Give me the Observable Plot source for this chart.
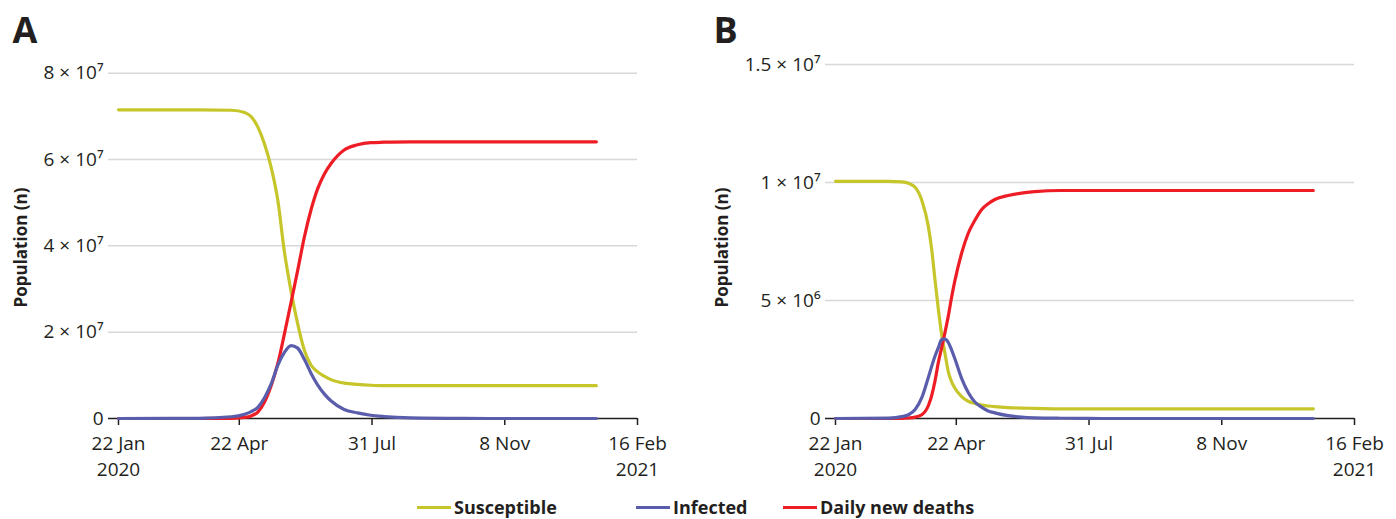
<!DOCTYPE html>
<html>
<head>
<meta charset="utf-8">
<script src="https://cdn.jsdelivr.net/npm/d3@7"></script>
<script src="https://cdn.jsdelivr.net/npm/@observablehq/plot@0.6"></script>
<style>
  body { margin: 0; background: #fff; font-family: "Open Sans", sans-serif; }
  #fig { position: relative; width: 1396px; height: 519px; overflow: hidden; }
  #fig svg { position: absolute; top: 0; }
  .legend { position: absolute; top: 495px; left: 0; width: 1396px; height: 24px; }
  .item { position: absolute; top: 0; height: 24px; display: flex; align-items: center;
          font-weight: 700; font-size: 18px; color: #231f20; }
  .sw { width: 34px; height: 3px; margin-right: 3px; }
</style>
</head>
<body>
<div id="fig">
  <div class="legend" id="legend"></div>
</div>
<script>
// Model start date; sample points are day offsets from it.
const startDate = Date.UTC(2020, 0, 22);
const endDate = Date.UTC(2021, 1, 16);

// x-axis ticks (100-day steps after 22 Apr) and their labels
const xTickDates = [Date.UTC(2020, 0, 22), Date.UTC(2020, 3, 22), Date.UTC(2020, 6, 31), Date.UTC(2020, 10, 8), Date.UTC(2021, 1, 16)];
const xTickLabels = ["22 Jan\n2020", "22 Apr", "31 Jul", "8 Nov", "16 Feb\n2021"];

// Series names and colours
const seriesNames = ["Susceptible", "Infected", "Daily new deaths"];
const seriesColors = ["#c6c62b", "#5a5dab", "#ee1d25"];

// Panel A (values in millions)
const daysA = [0, 60, 85, 95, 100, 105, 110, 115, 120, 125, 130, 135, 140, 145, 150, 155, 160, 170, 180, 190, 200, 220, 260, 300, 360];
const susceptibleA = [71.5, 71.5, 71.4, 70.9, 69.9, 67.5, 63.6, 58.2, 50.6, 38.6, 29.5, 21.9, 15.8, 12.4, 10.8, 9.8, 9.0, 8.2, 7.9, 7.7, 7.6, 7.6, 7.6, 7.6, 7.6];
const infectedA = [0, 0.05, 0.4, 1.0, 1.6, 2.6, 4.8, 8.0, 12.3, 15.3, 16.9, 16.3, 13.7, 10.5, 7.8, 5.7, 4.1, 2.1, 1.3, 0.75, 0.45, 0.15, 0.02, 0, 0];
const deathsA = [0, 0, 0.05, 0.25, 0.6, 1.5, 3.8, 7.6, 12.7, 19.6, 26.9, 34.3, 42.0, 48.3, 53.2, 56.6, 59.0, 62.2, 63.4, 63.9, 64.0, 64.1, 64.1, 64.1, 64.1];
const yTicksA = [0, 2e7, 4e7, 6e7, 8e7];

// Panel B (values in millions)
const daysB = [0, 40, 50, 55, 60, 65, 70, 72.5, 75, 77.5, 80, 82.5, 85, 87.5, 90, 95, 100, 105, 110, 115, 120, 130, 140, 150, 170, 200, 260, 360];
const susceptibleB = [10.05, 10.05, 10.03, 9.97, 9.8, 9.25, 8.12, 7.15, 5.85, 4.62, 3.56, 2.75, 1.98, 1.55, 1.28, 0.93, 0.73, 0.64, 0.57, 0.53, 0.5, 0.46, 0.44, 0.43, 0.41, 0.41, 0.41, 0.41];
const infectedB = [0, 0.02, 0.08, 0.16, 0.38, 0.88, 1.75, 2.22, 2.65, 3.0, 3.35, 3.36, 3.22, 2.9, 2.52, 1.7, 1.1, 0.7, 0.48, 0.32, 0.24, 0.12, 0.06, 0.03, 0.01, 0, 0, 0];
const deathsB = [0, 0, 0, 0.02, 0.06, 0.16, 0.55, 0.98, 1.6, 2.38, 3.0, 3.65, 4.35, 5.15, 5.85, 7.0, 7.85, 8.4, 8.85, 9.1, 9.28, 9.45, 9.55, 9.61, 9.66, 9.66, 9.66, 9.66];
const yTicksB = [0, 5e6, 1e7, 1.5e7];

const superscripts = {"0": "⁰", "1": "¹", "2": "²", "3": "³", "4": "⁴", "5": "⁵", "6": "⁶", "7": "⁷", "8": "⁸", "9": "⁹"};

function sciFormat(v) {
  if (v === 0) return "0";
  const e = Math.floor(Math.log10(v));
  const m = +(v / 10 ** e).toFixed(2);
  return `${m} × 10${String(e).split("").map(c => superscripts[c]).join("")}`;
}

function toRows(days, values) {
  return days.map((d, i) => ({date: new Date(startDate + d * 864e5), value: values[i] * 1e6}));
}

function panel({letter, days, S, I, R, yMax, yTicks, marginLeft, marginRight, letterDx, labelDx}) {
  return Plot.plot({
    width: 698,
    height: 480,
    marginTop: 64,
    marginBottom: 62,
    marginLeft,
    marginRight,
    style: {fontFamily: "'Open Sans', sans-serif", fontSize: "19px", color: "#231f20", background: "transparent", overflow: "visible"},
    x: {type: "utc", domain: [new Date(startDate), new Date(endDate)]},
    y: {domain: [0, yMax]},
    marks: [
      Plot.ruleY(yTicks.filter(d => d > 0), {stroke: "#d8d8d8", strokeWidth: 1.5, insetLeft: -10}),
      Plot.ruleY([0], {stroke: "#231f20", strokeWidth: 1.5, insetLeft: -10}),
      Plot.axisY({ticks: yTicks, tickSize: 0, tickPadding: 15, tickFormat: sciFormat, label: null}),
      Plot.axisX({
        ticks: xTickDates.map(t => new Date(t)),
        tickSize: 7,
        tickPadding: 6,
        strokeWidth: 1.5,
        stroke: "#231f20",
        lineHeight: 1.36,
        tickFormat: d => xTickLabels[xTickDates.indexOf(+d)],
        label: null
      }),
      Plot.line(toRows(days, S), {x: "date", y: "value", stroke: seriesColors[0], strokeWidth: 3.2, curve: "monotone-x"}),
      Plot.line(toRows(days, R), {x: "date", y: "value", stroke: seriesColors[2], strokeWidth: 3.2, curve: "monotone-x"}),
      Plot.line(toRows(days, I), {x: "date", y: "value", stroke: seriesColors[1], strokeWidth: 3.2, curve: "monotone-x"}),
      Plot.text([letter], {text: d => d, frameAnchor: "top-left", dx: letterDx, dy: -33, textAnchor: "start", lineAnchor: "middle", fontSize: 36, fontWeight: 700, fill: "#231f20"}),
      Plot.text(["Population (n)"], {text: d => d, frameAnchor: "left", dx: labelDx, dy: 6, rotate: -90, textAnchor: "middle", lineAnchor: "middle", fontSize: 17, fontWeight: 700, fill: "#231f20"})
    ]
  });
}

const fig = document.getElementById("fig");

const chartA = panel({
  letter: "A", days: daysA, S: susceptibleA, I: infectedA, R: deathsA,
  yMax: 8.2e7, yTicks: yTicksA, marginLeft: 118, marginRight: 61, letterDx: -106, labelDx: -97
});
chartA.style.left = "0px";
fig.appendChild(chartA);

const chartB = panel({
  letter: "B", days: daysB, S: susceptibleB, I: infectedB, R: deathsB,
  yMax: 1.5e7, yTicks: yTicksB, marginLeft: 137, marginRight: 42, letterDx: -122, labelDx: -113
});
chartB.style.left = "698px";
fig.appendChild(chartB);

// Shared legend below both panels
const legendLeft = [417, 636, 783];
const legend = document.getElementById("legend");
seriesNames.forEach((name, i) => {
  const item = document.createElement("div");
  item.className = "item";
  item.style.left = legendLeft[i] + "px";
  const sw = document.createElement("span");
  sw.className = "sw";
  sw.style.background = seriesColors[i];
  item.appendChild(sw);
  item.appendChild(document.createTextNode(name));
  legend.appendChild(item);
});
</script>
</body>
</html>
